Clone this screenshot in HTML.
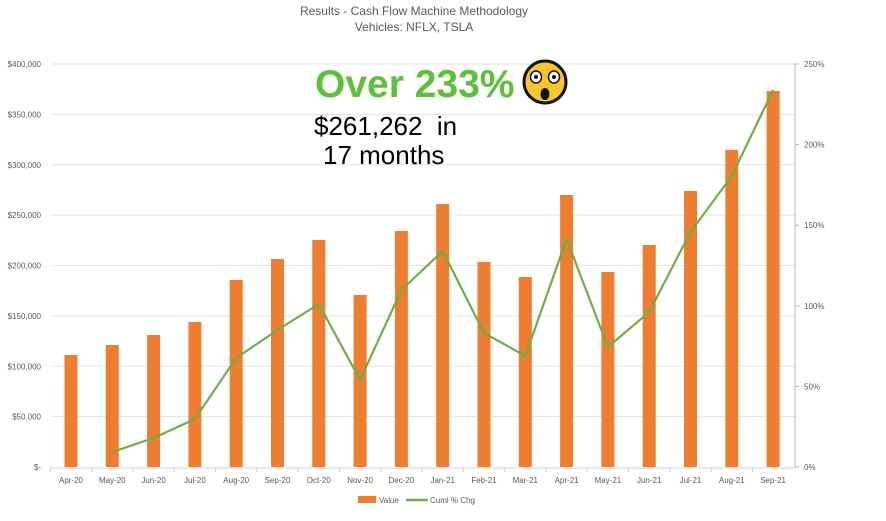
<!DOCTYPE html>
<html><head><meta charset="utf-8"><style>
body{margin:0;background:#fff;width:886px;height:521px;overflow:hidden}
svg{display:block;font-family:"Liberation Sans",sans-serif}
</style></head><body>
<svg id="s" width="886" height="521" xmlns="http://www.w3.org/2000/svg">
<text x="414" y="15" text-anchor="middle" font-size="12" fill="#595959">Results - Cash Flow Machine Methodology</text>
<text x="414" y="31" text-anchor="middle" font-size="12" fill="#595959">Vehicles: NFLX, TSLA</text>
<g id="g"></g>
<line x1="795" y1="64" x2="795" y2="468" stroke="#a9b4cc" stroke-width="1"/>
<line x1="50" y1="468" x2="795" y2="468" stroke="#d0d0d0"/>
<rect x="358" y="496" width="18" height="7" fill="#ed7d31"/>
<text x="379" y="503" font-size="8" fill="#595959">Value</text>
<line x1="406" y1="500" x2="428" y2="500" stroke="#70ad47" stroke-width="2.5"/>
<text x="430" y="503" font-size="8" fill="#595959">Cuml % Chg</text>
<text x="315" y="97" font-size="39" font-weight="bold" fill="#5dbf3a">Over 233%</text>
<circle cx="545" cy="82" r="21" fill="#f7c52c" stroke="#111" stroke-width="3"/>
<ellipse cx="536" cy="77" rx="5.5" ry="6" fill="#fff" stroke="#111" stroke-width="1.5"/>
<ellipse cx="554" cy="77" rx="5.5" ry="6" fill="#fff" stroke="#111" stroke-width="1.5"/>
<circle cx="536" cy="77" r="2" fill="#111"/><circle cx="554" cy="77" r="2" fill="#111"/>
<ellipse cx="545" cy="94" rx="4.5" ry="6" fill="#111"/>
<text x="314" y="135" font-size="26" fill="#000">$261,262&#160; in</text>
<text x="323" y="164" font-size="26" fill="#000">17 months</text>
</svg>
<script>
var g=document.getElementById('g'),h='';
var L=['$-','$50,000','$100,000','$150,000','$200,000','$250,000','$300,000','$350,000','$400,000'];
for(var i=0;i<9;i++){var y=467-i*50.375;
 if(i>0)h+='<line x1="52" y1="'+y+'" x2="795" y2="'+y+'" stroke="#e3e3e3"/>';
 h+='<text x="41" y="'+(y+3)+'" text-anchor="end" font-size="8" fill="#595959">'+L[i]+'</text>';}
for(var i=0;i<6;i++){var y=467-i*80.6;
 h+='<line x1="795" y1="'+y+'" x2="799" y2="'+y+'" stroke="#a9b4cc"/>';
 h+='<text x="804" y="'+(y+3)+'" font-size="8" fill="#595959">'+(i*50)+'%</text>';}
var C=['Apr-20','May-20','Jun-20','Jul-20','Aug-20','Sep-20','Oct-20','Nov-20','Dec-20','Jan-21','Feb-21','Mar-21','Apr-21','May-21','Jun-21','Jul-21','Aug-21','Sep-21'];
var B=[355,345,335,322,280,259,240,295,231,204,262,277,195,272,245,191,150,91];
var P=[null,452,438,419,358,330,304,380,290,251,333,356,239,347,312,232,176,90];
var pts=[];
for(var i=0;i<18;i++){var x=71+41.3*i;
 h+='<rect x="'+(x-6.5)+'" y="'+B[i]+'" width="13" height="'+(467-B[i])+'" fill="#ed7d31"/>';
 h+='<line x1="'+(x-20.65)+'" y1="468" x2="'+(x-20.65)+'" y2="472" stroke="#d0d0d0"/>';
 h+='<text x="'+x+'" y="483" text-anchor="middle" font-size="8" fill="#595959">'+C[i]+'</text>';
 if(P[i]!==null)pts.push(x+','+P[i]);}
h+='<polyline points="'+pts.join(' ')+'" fill="none" stroke="#70ad47" stroke-width="2.2" stroke-linejoin="round"/>';
g.innerHTML=h;
</script>
</body></html>
